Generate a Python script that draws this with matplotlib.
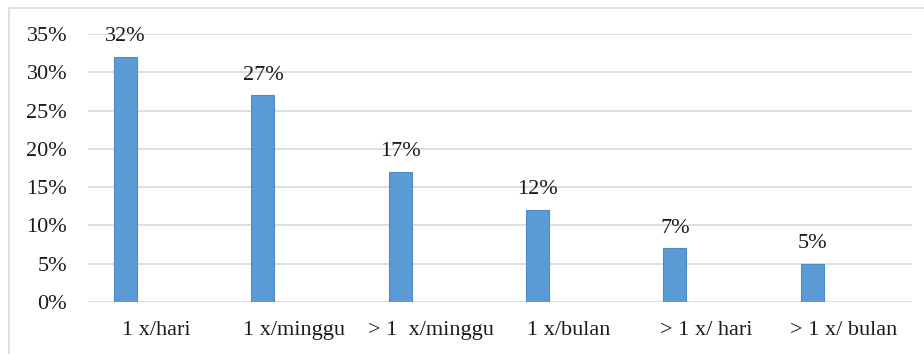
import matplotlib
matplotlib.use("Agg")
import matplotlib.pyplot as plt
from matplotlib.patches import Rectangle

categories = ["1 x/hari", "1 x/minggu", "> 1  x/minggu", "1 x/bulan", "> 1 x/ hari", "> 1 x/ bulan"]
values = [32, 27, 17, 12, 7, 5]
yticks = [0, 5, 10, 15, 20, 25, 30, 35]
ytick_labels = ["0%", "5%", "10%", "15%", "20%", "25%", "30%", "35%"]
value_labels = ["32%", "27%", "17%", "12%", "7%", "5%"]

plt.rcParams['font.family'] = ['Liberation Serif', 'DejaVu Serif']

W, H = 924, 354
fig = plt.figure(figsize=(W / 100, H / 100), dpi=100)
fig.patch.set_facecolor("white")

# outer chart border (top and left visible)
fig.patches.append(Rectangle((9 / W, -0.1), 1.2, (H - 8) / H + 0.1, transform=fig.transFigure,
                             fill=False, edgecolor="#d9d9d9", linewidth=1.2))

ax = fig.add_axes([88 / W, (H - 302) / H, (912 - 88) / W, (302 - 34) / H])
x = list(range(len(categories)))
bx = [i - 0.226 for i in x]
ax.bar(bx, values, width=0.167, color="#5b9bd5", edgecolor="#4f8cc6", linewidth=0.8, zorder=3)

fs = 16
for xi, v, lab in zip(bx, values, value_labels):
    ax.annotate(lab, (xi, v), xytext=(0, 14.5), textcoords="offset points",
                ha="center", va="center", fontsize=fs, color="#1a1a1a")

ax.set_xlim(-0.5, len(categories) - 0.5)
ax.set_ylim(0, 35)
ax.set_yticks(yticks)
ax.set_yticklabels(ytick_labels)
ax.set_xticks(x)
ax.set_xticklabels(categories)
ax.tick_params(axis="y", length=0, pad=15, labelsize=fs, labelcolor="#1a1a1a")
ax.tick_params(axis="x", length=0, pad=13.5, labelsize=fs, labelcolor="#1a1a1a")
ax.yaxis.grid(True, color="#d9d9d9", linewidth=1.2, zorder=0)
ax.set_axisbelow(True)
for s in ax.spines.values():
    s.set_visible(False)

fig.savefig("out.png", dpi=100, facecolor="white")
